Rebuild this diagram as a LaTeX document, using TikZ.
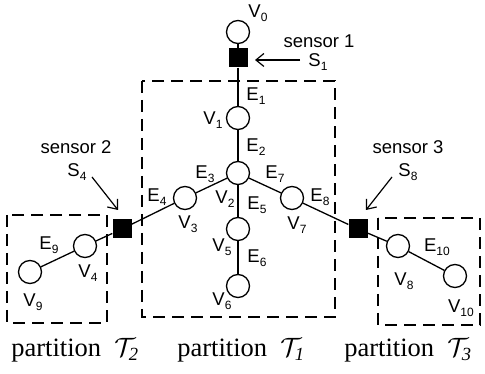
\RequirePackage{fix-cm}
\documentclass[tikz,border=0pt]{standalone}
\usepackage{fontspec}
\setmainfont{Liberation Serif}
\setsansfont{Liberation Sans}
\usetikzlibrary{arrows.meta}
\newcommand\lbl[2]{#1\raisebox{-4pt}{\fontsize{12}{12}\selectfont #2}}
\begin{document}
\begin{tikzpicture}[x=1pt,y=-1pt,
 vtx/.style={circle,draw,line width=1.3pt,minimum size=23pt,inner sep=0pt,fill=white},
 sens/.style={rectangle,fill=black,minimum size=19pt,inner sep=0pt},
 lab/.style={font=\sffamily\fontsize{18.5}{18.5}\selectfont,inner sep=0pt},
 part/.style={draw,dash pattern=on 12pt off 7pt,line width=1.3pt},
 edge/.style={line width=1.3pt},
 ptr/.style={line width=1.2pt,-{Straight Barb[length=8pt,width=13pt,line width=1.2pt]}},
 ptitle/.style={font=\fontsize{26.5}{30}\selectfont,inner sep=0pt}]
\useasboundingbox (0,0) rectangle (485,374);
% partitions
\draw[part] (142,81) rectangle (335,317);
\draw[part] (7,215) rectangle (107,323);
\draw[part] (378,218) rectangle (480,325);
% nodes
\node[vtx] (v0) at (238,32) {};
\node[sens] (s1) at (238,58) {};
\node[vtx] (v1) at (238,118) {};
\node[vtx] (v2) at (238,173) {};
\node[vtx] (v3) at (185,198) {};
\node[sens] (s4) at (122,229) {};
\node[vtx] (v4) at (85,246) {};
\node[vtx] (v9) at (30,272) {};
\node[vtx] (v5) at (238,229) {};
\node[vtx] (v6) at (238,286) {};
\node[vtx] (v7) at (292,198) {};
\node[sens] (s8) at (358,229) {};
\node[vtx] (v8) at (398,246) {};
\node[vtx] (v10) at (455,276) {};
% edges
\draw[edge] (v0) -- (s1) -- (v1) -- (v2);
\draw[edge] (v2) -- (v3) -- (s4) -- (v4) -- (v9);
\draw[edge] (v2) -- (v5) -- (v6);
\draw[edge] (v2) -- (v7) -- (s8) -- (v8) -- (v10);
% sensor pointers
\coordinate (a1s) at (300,60); \coordinate (a1e) at (255,60);
\coordinate (a2s) at (92,177); \coordinate (a2e) at (118,210);
\coordinate (a3s) at (392,177); \coordinate (a3e) at (366,210);
\draw[ptr] (a1s) -- (a1e);
\draw[ptr] (a2s) -- (a2e);
\draw[ptr] (a3s) -- (a3e);
% labels
\node[lab] (lv0) at (258,13) {\lbl{V}{0}};
\node[lab] (ls1t) at (319,41) {sensor 1};
\node[lab] (ls1) at (318,62) {\lbl{S}{1}};
\node[lab] (le1) at (256,96) {\lbl{E}{1}};
\node[lab] (lv1) at (213,120) {\lbl{V}{1}};
\node[lab] (le2) at (256,147) {\lbl{E}{2}};
\node[lab] (le3) at (205,174) {\lbl{E}{3}};
\node[lab] (le7) at (275,174) {\lbl{E}{7}};
\node[lab] (lv2) at (225,199) {\lbl{V}{2}};
\node[lab] (le5) at (257,205) {\lbl{E}{5}};
\node[lab] (lv5) at (222,247) {\lbl{V}{5}};
\node[lab] (le6) at (257,258) {\lbl{E}{6}};
\node[lab] (lv6) at (222,301) {\lbl{V}{6}};
\node[lab] (lv7) at (297,225) {\lbl{V}{7}};
\node[lab] (le8) at (320,197) {\lbl{E}{8}};
\node[lab] (lv3) at (188,224) {\lbl{V}{3}};
\node[lab] (le4) at (157,197) {\lbl{E}{4}};
\node[lab] (ls2t) at (76,147) {sensor 2};
\node[lab] (ls4) at (77,172) {\lbl{S}{4}};
\node[lab] (le9) at (49,245) {\lbl{E}{9}};
\node[lab] (lv4) at (88,273) {\lbl{V}{4}};
\node[lab] (lv9) at (33,302) {\lbl{V}{9}};
\node[lab] (ls3t) at (408,147) {sensor 3};
\node[lab] (ls8) at (408,172) {\lbl{S}{8}};
\node[lab] (lv8) at (404,281) {\lbl{V}{8}};
\node[lab] (le10) at (437,247) {\lbl{E}{10}};
\node[lab] (lv10) at (461,308) {\lbl{V}{10}};
% partition titles
\node[ptitle] (p2) at (75,350) {partition\hspace{0.25em} $\mathcal{T}_{\mathit{2}}$};
\node[ptitle] (p1) at (241,350) {partition\hspace{0.25em} $\mathcal{T}_{\mathit{1}}$};
\node[ptitle] (p3) at (408,350) {partition\hspace{0.25em} $\mathcal{T}_{\mathit{3}}$};
\end{tikzpicture}
\end{document}
